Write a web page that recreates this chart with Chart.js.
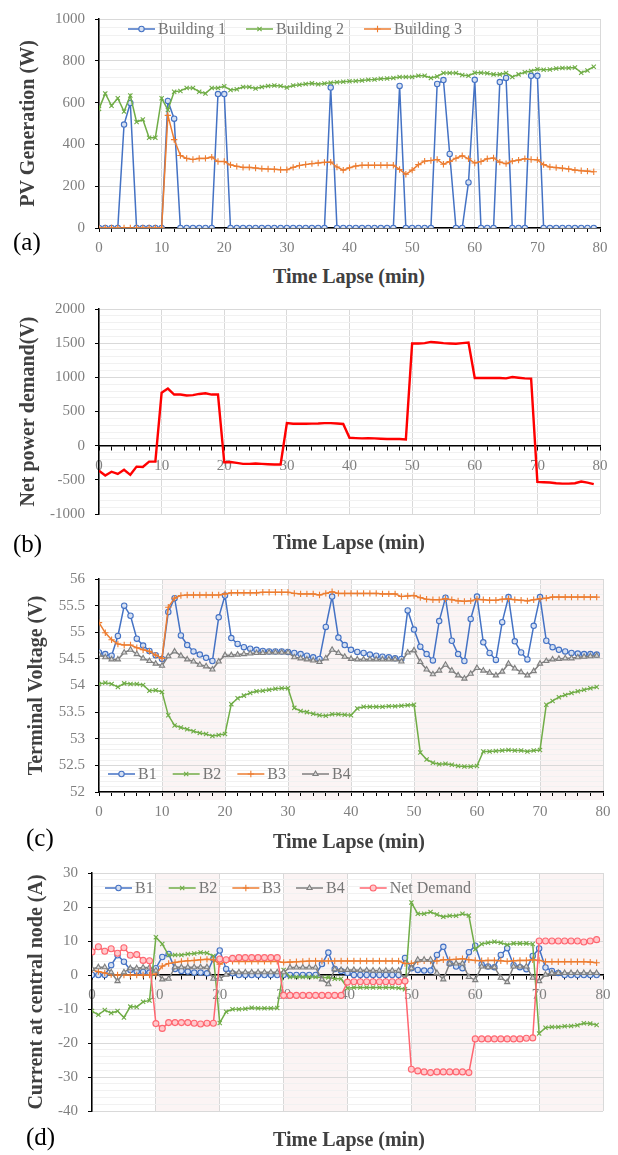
<!DOCTYPE html>
<html>
<head>
<meta charset="utf-8">
<script src="https://cdn.jsdelivr.net/npm/chart.js@4.4.1/dist/chart.umd.min.js"></script>
<style>
html,body{margin:0;padding:0;background:#fff;}
#page{position:relative;width:618px;height:1155px;overflow:hidden;font-family:'Liberation Serif','Times New Roman',serif;}
#page canvas{position:absolute;left:0;}
.xt{position:absolute;left:249px;width:200px;text-align:center;font-size:20px;font-weight:bold;color:#404040;line-height:24px;white-space:nowrap;}
.pl{position:absolute;font-size:25px;color:#000;line-height:30px;white-space:nowrap;}
</style>
</head>
<body>
<div id="page">
  <canvas id="chartA" width="618" height="258" style="top:0px"></canvas>
  <canvas id="chartB" width="618" height="243" style="top:290px"></canvas>
  <canvas id="chartC" width="618" height="262" style="top:560px"></canvas>
  <canvas id="chartD" width="618" height="280" style="top:850px"></canvas>

  <div class="pl" style="left:13px;top:227px">(a)</div>
  <div class="xt" style="top:264px">Time Lapse (min)</div>
  <div class="pl" style="left:13px;top:529px">(b)</div>
  <div class="xt" style="top:530px">Time Lapse (min)</div>
  <div class="pl" style="left:26px;top:823px">(c)</div>
  <div class="xt" style="top:829px">Time Lapse (min)</div>
  <div class="pl" style="left:26px;top:1122px">(d)</div>
  <div class="xt" style="top:1127px">Time Lapse (min)</div>
</div>
<script>
// ---------- DATA ----------
const minutes = [0,1,2,3,4,5,6,7,8,9,10,11,12,13,14,15,16,17,18,19,20,21,22,23,24,25,26,27,28,29,30,31,32,33,34,35,36,37,38,39,40,41,42,43,44,45,46,47,48,49,50,51,52,53,54,55,56,57,58,59,60,61,62,63,64,65,66,67,68,69,70,71,72,73,74,75,76,77,78,79];
const xTickLabels = [0,10,20,30,40,50,60,70,80];
const bandStarts = [10,30,50,70];

// (a) PV generation (W)
const pvBuilding1 = [0,0,0,0,495,598,0,0,0,0, 0,608,523,0,0,0,0,0,0,641, 641,0,0,0,0,0,0,0,0,0, 0,0,0,0,0,0,0,672,0,0, 0,0,0,0,0,0,0,0,680,0, 0,0,0,0,689,708,354,0,0,218, 709,0,0,0,698,718,0,0,0,728, 728,0,0,0,0,0,0,0,0,0];
const pvBuilding2 = [570,644,585,621,557,634,507,519,432,432, 621,565,652,656,670,670,652,644,670,670, 678,660,664,675,675,667,675,679,682,679, 672,682,685,689,692,688,691,695,697,700, 702,703,706,709,711,714,715,718,722,723, 723,728,728,718,725,742,742,742,732,728, 743,743,740,735,735,742,723,735,745,751, 760,757,758,763,766,766,768,743,754,772];
const pvBuilding3 = [0,0,0,0,0,0,0,0,0,0, 0,539,423,347,333,328,333,333,339,318, 318,302,295,290,290,287,284,282,281,279, 279,290,299,304,308,311,314,315,292,277, 288,297,300,300,300,300,300,300,280,257, 277,303,320,323,328,305,318,334,346,331, 311,318,331,335,315,308,320,325,331,328, 326,303,292,289,286,282,277,274,272,269];

// (b) Net power demand
const netPowerDemand = [-367,-436,-381,-413,-353,-427,-307,-312,-234,-234, 775,835,748,748,734,739,757,766,748,748, -243,-239,-252,-266,-266,-261,-266,-271,-275,-275, 330,321,321,321,323,325,330,330,325,318, 115,111,106,108,106,102,97,99,97,92, 1495,1495,1500,1518,1509,1500,1495,1491,1500,1509, 990,990,990,990,990,985,1004,994,985,981, -530,-535,-540,-550,-555,-555,-550,-525,-540,-563];

// (c) Terminal voltage (V)
const voltB1 = [54.62,54.59,54.56,54.93,55.50,55.31,54.88,54.75,54.65,54.57, 54.50,55.38,55.64,54.94,54.76,54.64,54.58,54.52,54.46,55.28, 55.69,54.89,54.78,54.72,54.69,54.67,54.65,54.64,54.64,54.64, 54.63,54.61,54.59,54.56,54.53,54.50,55.10,55.67,54.90,54.76, 54.67,54.63,54.61,54.58,54.56,54.54,54.53,54.51,54.50,55.41, 55.05,54.73,54.59,54.47,55.21,55.65,54.84,54.59,54.46,55.25, 55.67,54.81,54.61,54.48,55.19,55.66,54.83,54.62,54.49,55.12, 55.66,54.84,54.72,54.67,54.64,54.61,54.60,54.59,54.59,54.58];
const voltB2 = [54.03,54.05,54.03,53.97,54.04,54.03,54.03,54.01,53.90,53.91, 53.88,53.44,53.25,53.21,53.18,53.14,53.11,53.09,53.05,53.07, 53.09,53.65,53.76,53.81,53.86,53.89,53.90,53.92,53.94,53.95, 53.95,53.58,53.52,53.50,53.47,53.44,53.43,53.46,53.46,53.45, 53.44,53.57,53.60,53.60,53.60,53.60,53.61,53.61,53.62,53.63, 53.64,52.74,52.61,52.55,52.52,52.53,52.51,52.49,52.48,52.48, 52.49,52.76,52.76,52.77,52.78,52.79,52.78,52.78,52.76,52.78, 52.79,53.64,53.71,53.78,53.82,53.86,53.89,53.92,53.95,53.97];
const voltB3 = [55.18,54.99,54.86,54.78,54.76,54.76,54.71,54.67,54.64,54.57, 54.51,55.47,55.64,55.69,55.70,55.70,55.70,55.70,55.70,55.70, 55.72,55.74,55.74,55.74,55.74,55.74,55.75,55.75,55.75,55.75, 55.75,55.73,55.72,55.72,55.72,55.70,55.73,55.76,55.73,55.73, 55.73,55.73,55.73,55.73,55.73,55.72,55.72,55.72,55.67,55.68, 55.69,55.65,55.62,55.61,55.61,55.63,55.61,55.59,55.58,55.59, 55.62,55.61,55.60,55.60,55.62,55.63,55.61,55.60,55.59,55.61, 55.63,55.64,55.66,55.66,55.66,55.66,55.66,55.66,55.66,55.66];
const voltB4 = [54.58,54.53,54.49,54.49,54.62,54.67,54.59,54.51,54.46,54.41, 54.37,54.55,54.64,54.56,54.49,54.45,54.39,54.36,54.30,54.45, 54.57,54.57,54.58,54.59,54.60,54.61,54.61,54.62,54.62,54.62, 54.62,54.53,54.51,54.49,54.47,54.44,54.51,54.67,54.61,54.54, 54.50,54.49,54.49,54.49,54.49,54.49,54.49,54.49,54.45,54.62, 54.66,54.44,54.30,54.21,54.28,54.39,54.28,54.19,54.13,54.22, 54.33,54.28,54.24,54.19,54.26,54.41,54.32,54.25,54.19,54.27, 54.41,54.46,54.49,54.50,54.51,54.51,54.53,54.54,54.55,54.56];

// (d) Current at central node (A)
const currB1 = [0,0,0,2.9,5.8,3.9,1.5,1.0,0.9,0.7, 2.0,5.3,6.2,1.8,1.2,1.0,0.7,0.7,0.5,4.8, 7.2,1.8,0.5,0,0,0,0,0,0,0, 0,0,0,0,0,0,3.2,6.6,1.8,1.2, 0.6,0,0,0,0,0,0,0,0,5.0, 2.0,1.5,1.3,1.3,5.9,8.3,3.4,2.5,2.0,6.7, 8.6,3.1,2.5,2.3,5.9,7.9,2.9,2.3,1.7,5.6, 7.8,2.2,1.2,0.6,0,0,0,0,0,0];
const currB2 = [-10.6,-11.7,-10.3,-11.2,-10.6,-12.5,-9.3,-9.4,-7.9,-7.5, 11.1,9.1,5.8,5.9,5.9,6.2,6.3,6.6,6.5,5.6, -14.1,-10.8,-10.1,-10.1,-9.9,-9.6,-9.8,-9.8,-9.8,-9.7, 1.5,-0.6,-0.6,-0.6,-0.6,-0.6,-0.8,-0.7,-1.1,-1.1, -3.9,-3.7,-3.7,-3.7,-3.7,-3.7,-3.7,-3.7,-3.8,-4.2, 21.3,18.0,18.0,18.5,17.8,17.1,17.4,17.4,18.0,17.5, 7.6,9.1,9.5,9.8,9.5,8.9,9.3,9.3,9.3,9.1, -17.2,-15.5,-15.3,-15.3,-15.1,-15.0,-14.8,-14.2,-14.3,-14.7];
const currB3 = [1.5,1.0,0.6,0.1,0,0,0,0,0,0, 0.3,2.6,3.4,3.7,4.0,4.2,4.3,4.5,4.6,4.5, 3.2,4.2,4.0,4.0,4.0,4.0,4.0,4.0,4.0,4.0, 3.7,3.8,3.9,4.0,4.1,4.1,4.1,4.1,4.1,4.1, 4.1,4.1,4.1,4.1,4.1,4.1,4.1,4.1,4.1,3.4, 3.4,3.9,4.2,4.1,4.1,4.5,4.5,4.6,4.8,4.5, 4.3,4.2,4.3,4.3,4.2,4.0,4.2,4.3,4.3,4.5, 4.3,3.9,3.9,3.9,3.9,3.9,3.9,3.9,3.8,3.6];
const currB4 = [1.8,2.3,2.3,0.8,-1.8,0.8,2.0,2.0,2.2,2.2, 1.3,-1.3,-1.1,2.3,2.3,2.3,2.3,2.3,2.3,-1.1, -1.1,0.1,0.8,0.8,0.8,0.8,0.8,0.8,0.8,0.8, 0.8,2.2,2.2,2.2,2.2,2.2,-1.3,-2.7,1.7,1.5, 1.5,1.5,1.4,1.4,1.3,1.3,1.3,1.3,1.3,-1.3, 2.0,4.5,4.5,4.5,0.6,-1.3,3.4,3.4,3.4,-0.6, -1.5,2.5,2.3,2.3,-0.8,-2.1,2.5,2.5,2.5,-0.8, -1.8,0.1,0.6,0.6,0.6,0.6,0.6,0.6,0.6,0.6];
const currNet = [6.8,8.3,7.0,7.7,6.4,8.0,5.8,6.0,4.3,4.2, -14.3,-15.7,-14.0,-14.0,-14.0,-14.0,-14.2,-14.4,-14.2,-14.2, 4.7,4.5,4.9,5.1,5.1,5.1,5.1,5.1,5.1,5.1, -6.0,-6.0,-6.0,-6.0,-6.0,-6.0,-6.0,-6.0,-6.0,-6.0, -2.1,-2.0,-2.0,-2.0,-2.0,-2.0,-2.0,-2.0,-2.0,-1.8, -27.7,-28.2,-28.5,-28.7,-28.5,-28.5,-28.5,-28.5,-28.5,-28.7, -18.8,-18.8,-18.8,-18.8,-18.8,-18.8,-18.8,-18.8,-18.6,-18.5, 10.0,10.0,10.0,10.0,10.0,10.0,10.0,9.7,10.0,10.4];

// ---------- STYLE ----------
const FONT = "'Liberation Serif','Times New Roman',serif";
const C_BLUE = '#4472C4', C_GREEN = '#70AD47', C_ORANGE = '#ED7D31', C_GRAY = '#7F7F7F', C_NET = '#FF6670';
Chart.defaults.font.family = FONT;
Chart.defaults.animation = false;
Chart.defaults.responsive = false;
Chart.defaults.events = [];
Chart.defaults.plugins.legend.display = false;
Chart.defaults.plugins.tooltip.enabled = false;

function isMajor(v, step) { const q = v / step; return Math.abs(q - Math.round(q)) < 1e-6; }
function fmt(v) { return String(Math.round(v * 10) / 10); }

function yScale(o) {
  return {
    type: 'linear', position: 'left', min: o.min, max: o.max,
    afterFit: s => { s.width = o.width; },
    border: { display: true, color: '#000', width: 1.5 },
    grid: {
      color: c => (c.tick && isMajor(c.tick.value, o.major)) ? '#d9d9d9' : '#f1f1f1',
      tickColor: c => (c.tick && isMajor(c.tick.value, o.major)) ? '#000' : 'rgba(0,0,0,0)',
      tickLength: 4, lineWidth: 1
    },
    ticks: {
      stepSize: o.minor, autoSkip: false, padding: 10, color: '#7f7f7f', font: { size: 15 },
      callback: v => isMajor(v, o.major) ? fmt(v) : ''
    },
    title: { display: true, text: o.title, color: '#404040', font: { size: 20, weight: 'bold' }, padding: { top: o.titlePad, bottom: 0 } }
  };
}
function xScale(o) {
  const s = {
    type: 'linear', min: xTickLabels[0], max: xTickLabels[xTickLabels.length - 1],
    position: o.position,
    border: { display: true, color: '#000', width: 1.5 },
    grid: {
      color: c => (c.tick && xTickLabels.includes(c.tick.value)) ? '#d9d9d9' : 'rgba(0,0,0,0)',
      tickColor: '#000', tickLength: 4, lineWidth: 1
    },
    ticks: {
      stepSize: 2, autoSkip: false, maxRotation: 0, minRotation: 0, padding: 7, color: '#7f7f7f', font: { size: 15 },
      callback: v => xTickLabels.includes(v) ? String(v) : ''
    }
  };
  if (o.height != null) s.afterFit = sc => { sc.height = o.height; };
  return s;
}
function series(label, data, color, style, fill, idx, radius) {
  return {
    label, data, borderColor: color, backgroundColor: color, borderWidth: 1.5,
    pointStyle: style, pointRadius: radius || 2.8, pointBorderColor: color, pointBackgroundColor: fill,
    pointBorderWidth: 1.1, tension: 0, fill: false, order: -idx
  };
}

function drawMarker(ctx, style, x, y, r, stroke, fill, bw) {
  ctx.save();
  ctx.lineWidth = bw; ctx.strokeStyle = stroke; ctx.fillStyle = fill;
  ctx.beginPath();
  if (style === 'circle') {
    ctx.arc(x, y, r, 0, Math.PI * 2); ctx.fill(); ctx.stroke();
  } else if (style === 'triangle') {
    for (let k = 0; k < 3; k++) {
      const a = k * 2 * Math.PI / 3;
      const px = x + Math.sin(a) * r, py = y - Math.cos(a) * r;
      if (k === 0) ctx.moveTo(px, py); else ctx.lineTo(px, py);
    }
    ctx.closePath(); ctx.fill(); ctx.stroke();
  } else if (style === 'cross') {
    ctx.moveTo(x - r, y); ctx.lineTo(x + r, y); ctx.moveTo(x, y - r); ctx.lineTo(x, y + r); ctx.stroke();
  } else if (style === 'crossRot') {
    const d = r * 0.7071;
    ctx.moveTo(x - d, y - d); ctx.lineTo(x + d, y + d); ctx.moveTo(x - d, y + d); ctx.lineTo(x + d, y - d); ctx.stroke();
  }
  ctx.restore();
}

const insideLegend = {
  id: 'insideLegend',
  afterDraw(chart, args, opts) {
    if (!opts || opts.x == null) return;
    const ctx = chart.ctx;
    ctx.save();
    ctx.font = '16px ' + FONT;
    ctx.textBaseline = 'middle';
    let x = opts.x; const y = opts.y;
    chart.data.datasets.forEach(ds => {
      ctx.strokeStyle = ds.borderColor; ctx.lineWidth = ds.borderWidth;
      ctx.beginPath(); ctx.moveTo(x, y); ctx.lineTo(x + 27, y); ctx.stroke();
      drawMarker(ctx, ds.pointStyle, x + 13.5, y, ds.pointRadius, ds.pointBorderColor, ds.pointBackgroundColor, ds.pointBorderWidth);
      ctx.fillStyle = '#767676';
      ctx.fillText(ds.label, x + 30, y + 1);
      x += 30 + ctx.measureText(ds.label).width + opts.gap;
    });
    ctx.restore();
  }
};
const bands = {
  id: 'bands',
  beforeDraw(chart, args, opts) {
    if (!opts || !opts.starts) return;
    const { ctx, chartArea } = chart; const xs = chart.scales.x;
    ctx.save(); ctx.fillStyle = opts.color;
    opts.starts.forEach(s => {
      const x0 = xs.getPixelForValue(s), x1 = xs.getPixelForValue(s + opts.width);
      ctx.fillRect(x0, chartArea.top, x1 - x0, chartArea.bottom - chartArea.top + (opts.ext || 0));
    });
    ctx.restore();
  }
};

// ---------- (a) ----------
new Chart(document.getElementById('chartA'), {
  type: 'line',
  data: { labels: minutes, datasets: [
    series('Building 1', pvBuilding1, C_BLUE, 'circle', '#d6e0f2', 0, 2.7),
    series('Building 2', pvBuilding2, C_GREEN, 'crossRot', C_GREEN, 1, 3),
    series('Building 3', pvBuilding3, C_ORANGE, 'cross', C_ORANGE, 2, 3.2)
  ]},
  options: {
    layout: { padding: { left: 0, right: 18, top: 11, bottom: 0 } },
    scales: {
      x: xScale({ position: 'bottom', height: 30 }),
      y: yScale({ min: 0, max: 1000, major: 200, minor: 40, width: 99, title: 'PV Generation (W)', titlePad: 17 })
    },
    plugins: { insideLegend: { x: 128, y: 29, gap: 20 } }
  },
  plugins: [insideLegend]
});

// ---------- (b) ----------
new Chart(document.getElementById('chartB'), {
  type: 'line',
  data: { labels: minutes, datasets: [{
    label: 'Net power demand', data: netPowerDemand, borderColor: '#FF0000', borderWidth: 2.4,
    pointRadius: 0, tension: 0, fill: false
  }]},
  options: {
    layout: { padding: { left: 0, right: 18, top: 17, bottom: 10 } },
    scales: {
      x: xScale({ position: { y: 0 } }),
      y: yScale({ min: -1000, max: 2000, major: 500, minor: 100, width: 99, title: 'Net power demand(V)', titlePad: 17 })
    }
  }
});

// ---------- (c) ----------
new Chart(document.getElementById('chartC'), {
  type: 'line',
  data: { labels: minutes, datasets: [
    series('B1', voltB1, C_BLUE, 'circle', '#d6e0f2', 0, 2.7),
    series('B2', voltB2, C_GREEN, 'crossRot', C_GREEN, 1, 3),
    series('B3', voltB3, C_ORANGE, 'cross', C_ORANGE, 2, 3.2),
    series('B4', voltB4, C_GRAY, 'triangle', '#d9d9d9', 3, 3)
  ]},
  options: {
    layout: { padding: { left: 0, right: 15, top: 15, bottom: 0 } },
    scales: {
      x: xScale({ position: 'bottom', height: 30 }),
      y: yScale({ min: 52, max: 56, major: 0.5, minor: 0.1, width: 99, title: 'Terminal Voltage (V)', titlePad: 25 })
    },
    plugins: {
      insideLegend: { x: 108, y: 214, gap: 16 },
      bands: { starts: bandStarts, width: 10, color: 'rgba(236,205,205,0.22)', ext: 8 }
    }
  },
  plugins: [bands, insideLegend]
});

// ---------- (d) ----------
new Chart(document.getElementById('chartD'), {
  type: 'line',
  data: { labels: minutes, datasets: [
    series('B1', currB1, C_BLUE, 'circle', '#d6e0f2', 0, 2.7),
    series('B2', currB2, C_GREEN, 'crossRot', C_GREEN, 1, 3),
    series('B3', currB3, C_ORANGE, 'cross', C_ORANGE, 2, 3.2),
    series('B4', currB4, C_GRAY, 'triangle', '#d9d9d9', 3, 3),
    series('Net Demand', currNet, C_NET, 'circle', '#ffc9cc', 4, 3)
  ]},
  options: {
    layout: { padding: { left: 0, right: 15, top: 23, bottom: 10 } },
    scales: {
      x: xScale({ position: { y: 0 } }),
      y: yScale({ min: -40, max: 30, major: 10, minor: 2, width: 92, title: 'Current at central node (A)', titlePad: 25 })
    },
    plugins: {
      insideLegend: { x: 105, y: 38, gap: 15 },
      bands: { starts: bandStarts, width: 10, color: 'rgba(236,205,205,0.22)', ext: 0 }
    }
  },
  plugins: [bands, insideLegend]
});
</script>
</body>
</html>
